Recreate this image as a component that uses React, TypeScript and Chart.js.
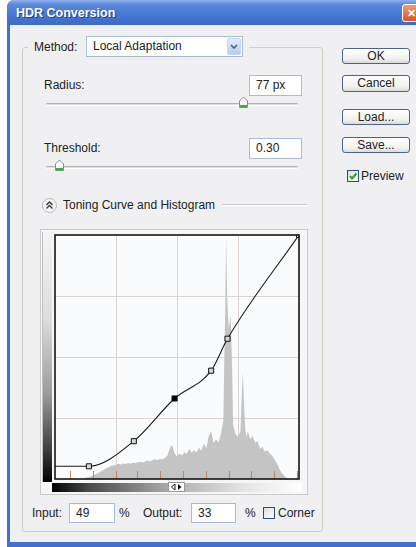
import React, { useEffect, useRef } from "react";
import { Chart, registerables } from "chart.js";

Chart.register(...registerables);

// Toning curve control points (input %, output %)
const curveInput = [0, 13.9, 32.3, 49, 64, 70.7, 100];
const curveOutput = [5.2, 5.2, 15.5, 33, 44.4, 57.5, 100];
const selectedPoint = 3;

// Histogram (input level %, relative count in output %)
const histLevels = [
  0, 11, 12, 13, 14, 15, 16, 17, 18, 19, 20, 21, 22, 23, 24, 25, 26, 27, 28, 29,
  30, 31, 32, 33, 34, 35, 36, 37, 38, 39, 40, 41, 42, 43, 44, 45, 46, 47, 48, 49,
  50, 51, 52, 53, 54, 55, 56, 57, 58, 59, 60, 61, 62, 63, 64, 65, 66, 67, 68, 69,
  69.4, 69.8, 70.1, 70.4, 70.6, 71.2, 72, 72.6, 73, 74, 75, 76, 76.6, 77, 77.5, 78,
  78.5, 79, 80, 81, 82, 83, 84, 85, 86, 87, 88, 89, 90, 91, 92, 93, 94, 95, 96, 100,
];
const histCounts = [
  0, 0, 0.3, 0.6, 0.8, 1.2, 1.6, 2.0, 2.6, 3.2, 3.8, 4.4, 4.8, 5.4, 5.6, 5.8, 6.2, 5.9, 6.4, 6.1,
  6.6, 6.3, 6.8, 6.5, 6.9, 7.1, 6.8, 7.3, 7.6, 7.2, 7.8, 8.1, 7.7, 8.3, 8.0, 8.6, 9.4, 12.5, 14, 10.5,
  9.2, 10.4, 9.6, 11.0, 10.2, 12.4, 10.8, 11.8, 11.0, 12.8, 11.6, 14.5, 12.6, 17.5, 19.6, 14.8, 16.2, 15.0, 18.4, 24,
  50, 72, 100, 100, 73, 62, 67, 45, 22, 18.4, 17.2, 19.5, 36, 43.6, 30, 20.4,
  17, 19.6, 16.4, 17.6, 14.8, 15.6, 12.4, 13.2, 11.2, 11.8, 10.4, 9.6, 8.0, 6.4, 4.0, 2.4, 1.2, 0.4, 0, 0,
];

// Exposure stop ticks along the input axis
const stopTicks = [6.1, 15.5, 24.9, 33.7, 43.1, 52.4, 61.9, 71.3, 80.4, 89.9, 99.2];
const gridTicks = [0, 25, 50, 75, 100];

const FONT = '"Liberation Sans", Arial, sans-serif';

const framePlugin = {
  id: "frame",
  beforeDraw(chart: any) {
    const { ctx, chartArea: a } = chart;
    ctx.save();
    ctx.fillStyle = "#fafbfd";
    ctx.fillRect(a.left, a.top, a.right - a.left, a.bottom - a.top);
    ctx.restore();
  },
  afterDatasetsDraw(chart: any) {
    const { ctx, chartArea: a, scales } = chart;
    ctx.save();
    ctx.strokeStyle = "#d27f5c";
    ctx.lineWidth = 1;
    for (const t of stopTicks) {
      const x = Math.round(scales.x.getPixelForValue(t)) + 0.5;
      ctx.beginPath();
      ctx.moveTo(x, a.bottom - 8);
      ctx.lineTo(x, a.bottom);
      ctx.stroke();
    }
    ctx.strokeStyle = "#141414";
    ctx.lineWidth = 1.6;
    ctx.strokeRect(a.left, a.top, a.right - a.left, a.bottom - a.top);
    ctx.restore();
  },
};

function CurveChart() {
  const ref = useRef<HTMLCanvasElement | null>(null);
  useEffect(() => {
    if (!ref.current) return;
    const gridColor = (c: any) =>
      c.tick && (c.tick.value === 0 || c.tick.value === 100) ? "rgba(0,0,0,0)" : "#dcd2ce";
    const chart = new Chart(ref.current, {
      type: "line",
      data: {
        datasets: [
          {
            label: "curve",
            data: curveInput.map((x, i) => ({ x, y: curveOutput[i] })),
            borderColor: "#1a1a1a",
            borderWidth: 1.1,
            cubicInterpolationMode: "monotone",
            pointStyle: "rect",
            pointRadius: (c: any) => (c.dataIndex === 0 ? 0 : 3.6),
            pointBackgroundColor: (c: any) => (c.dataIndex === selectedPoint ? "#000" : "#d6d6d6"),
            pointBorderColor: "#111",
            pointBorderWidth: 1,
            fill: false,
          } as any,
          {
            label: "histogram",
            data: histLevels.map((x, i) => ({ x, y: histCounts[i] })),
            borderWidth: 0,
            pointRadius: 0,
            fill: "origin",
            backgroundColor: "#c4c4c4",
            tension: 0,
          } as any,
        ],
      },
      options: {
        animation: false,
        responsive: false,
        events: [],
        layout: { padding: { left: 2, right: 2, top: 2, bottom: 2 } },
        plugins: { legend: { display: false }, tooltip: { enabled: false } },
        scales: {
          x: {
            type: "linear",
            min: 0,
            max: 100,
            afterBuildTicks: (s: any) => {
              s.ticks = gridTicks.map((v) => ({ value: v }));
            },
            ticks: { display: false },
            grid: { drawTicks: false, color: gridColor, lineWidth: 1 },
            border: { display: false },
          },
          y: {
            type: "linear",
            min: 0,
            max: 100,
            afterBuildTicks: (s: any) => {
              s.ticks = gridTicks.map((v) => ({ value: v }));
            },
            ticks: { display: false },
            grid: { drawTicks: false, color: gridColor, lineWidth: 1 },
            border: { display: false },
          },
        },
      } as any,
      plugins: [framePlugin],
    });
    return () => chart.destroy();
  }, []);
  return (
    <canvas
      ref={ref}
      width={254}
      height={254}
      style={{ position: "absolute", left: 50, top: 230, width: 254, height: 254, zIndex: 2 }}
    />
  );
}

const abs = (l: number, t: number, w?: number, h?: number, extra: any = {}) => ({
  position: "absolute" as const,
  left: l,
  top: t,
  width: w,
  height: h,
  ...extra,
});

function Label({ x, cy, text, h = 16 }: { x: number; cy: number; text: string; h?: number }) {
  return (
    <div style={abs(x, cy - h / 2, undefined, h, { lineHeight: h + "px", whiteSpace: "nowrap" })}>{text}</div>
  );
}

function TextBox({ x, y, w, h, text }: { x: number; y: number; w: number; h: number; text: string }) {
  return (
    <div
      style={abs(x, y, w, h, {
        boxSizing: "border-box",
        background: "#fff",
        border: "1px solid #a9bcd3",
        lineHeight: h - 2 + "px",
        paddingLeft: 6,
      })}
    >
      {text}
    </div>
  );
}

function Button({ y, h, text }: { y: number; h: number; text: string }) {
  return (
    <div
      style={abs(342, y, 68, h, {
        boxSizing: "border-box",
        border: "1px solid #4a6390",
        borderRadius: 3,
        background: "linear-gradient(#ffffff, #f1f1ee 70%, #dcdcd6)",
        textAlign: "center",
        lineHeight: h - 2 + "px",
      })}
    >
      {text}
    </div>
  );
}

function Slider({ y, thumbX }: { y: number; thumbX: number }) {
  return (
    <>
      <div
        style={abs(46, y, 252, 3, {
          boxSizing: "border-box",
          borderTop: "1px solid #b3b3b3",
          borderBottom: "1px solid #ffffff",
          background: "#dedede",
          borderRadius: 2,
        })}
      />
      <svg style={abs(thumbX - 5, y - 7, 11, 13)} width={11} height={13}>
        <path d="M1.5,5 L5.5,1 L9.5,5 L9.5,11.5 L1.5,11.5 Z" fill="#ffffff" stroke="#8c8c8c" strokeWidth={1} />
        <rect x={2} y={9} width={7} height={2.5} fill="#3fae49" />
      </svg>
    </>
  );
}

export default function App() {
  return (
    <div
      style={{
        position: "fixed",
        left: 0,
        top: 0,
        width: 416,
        height: 547,
        overflow: "hidden",
        background: "#ffffff",
        fontFamily: FONT,
        fontSize: 12,
        color: "#222",
      }}
    >
      {/* window frame */}
      <div style={abs(7, 0, 420, 547, { background: "#4470cc", borderRadius: "7px 7px 0 0" })} />
      {/* title bar */}
      <div
        style={abs(7, 0, 420, 25, {
          borderRadius: "7px 7px 0 0",
          background: "linear-gradient(#8fb0ea 0%, #5a88da 18%, #4676d0 60%, #3c6bc8 100%)",
        })}
      />
      <div
        style={abs(16, 4, 200, 18, {
          color: "#fff",
          fontWeight: "bold",
          fontSize: 12.5,
          lineHeight: "18px",
          textShadow: "1px 1px 0 #1d3f8a",
        })}
      >
        HDR Conversion
      </div>
      <div
        style={abs(402, 4, 21, 18, {
          boxSizing: "border-box",
          border: "1px solid #ffffff",
          borderRadius: 3,
          background: "linear-gradient(#f09a76, #d9542b)",
          color: "#fff",
          fontWeight: "bold",
          fontSize: 11,
          lineHeight: "16px",
          paddingLeft: 4,
        })}
      >
        ✕
      </div>
      {/* body */}
      <div style={abs(10, 25, 410, 517, { background: "#f0f0f3" })} />

      {/* group box */}
      <div
        style={abs(22, 47, 301, 485, {
          boxSizing: "border-box",
          border: "1px solid #cfcfc6",
          borderRadius: 3,
        })}
      />
      <div style={abs(28, 43, 221, 8, { background: "#f0f0f3" })} />

      <Label x={34} cy={46.5} text="Method:" />
      <div
        style={abs(86, 36, 157, 21, {
          boxSizing: "border-box",
          background: "#fff",
          border: "1px solid #a9bcd3",
          lineHeight: "19px",
          paddingLeft: 6,
        })}
      >
        Local Adaptation
      </div>
      <div
        style={abs(227, 38, 14, 17, {
          boxSizing: "border-box",
          borderRadius: 2,
          background: "linear-gradient(#e3ebfb, #b9cbef)",
          border: "1px solid #c6d4ef",
        })}
      >
        <svg width={12} height={15} style={{ display: "block" }}>
          <path d="M3,6 L6,9 L9,6" fill="none" stroke="#4d6185" strokeWidth={1.6} />
        </svg>
      </div>

      <Label x={44} cy={85} text="Radius:" />
      <TextBox x={249} y={75} w={53} h={21} text="77 px" />
      <Slider y={103} thumbX={243} />

      <Label x={44} cy={148} text="Threshold:" />
      <TextBox x={249} y={138} w={53} h={21} text="0.30" />
      <Slider y={166} thumbX={59} />

      {/* Toning curve header */}
      <svg style={abs(41, 197, 17, 17)} width={17} height={17}>
        <circle cx={8.5} cy={8.5} r={7} fill="#f7f7f7" stroke="#b9b9b9" strokeWidth={1} />
        <path d="M5.5,8 L8.5,5 L11.5,8 M5.5,11.5 L8.5,8.5 L11.5,11.5" fill="none" stroke="#333" strokeWidth={1.3} />
      </svg>
      <Label x={63} cy={205} text="Toning Curve and Histogram" />
      <div
        style={abs(222, 204, 85, 2, {
          boxSizing: "border-box",
          borderTop: "1px solid #c9c9c9",
          borderBottom: "1px solid #ffffff",
        })}
      />

      {/* chart frame */}
      <div
        style={abs(40, 229, 268, 266, {
          boxSizing: "border-box",
          border: "1px solid #cbcbcb",
          background: "#f6f6f7",
        })}
      />
      <div
        style={abs(42, 232, 10, 250, {
          background: "linear-gradient(#f4f4f4 0%, #dcdcdc 35%, #9a9a9a 65%, #3a3a3a 88%, #000 100%)",
          borderLeft: "1px solid #c0c0c0",
          boxSizing: "border-box",
        })}
      />
      <div
        style={abs(52, 483, 250, 9, {
          background: "linear-gradient(90deg, #000 0%, #4a4a4a 15%, #a5a5a5 45%, #e2e2e2 75%, #fff 100%)",
        })}
      />
      <div
        style={abs(168, 482, 17, 10, {
          boxSizing: "border-box",
          background: "#fff",
          border: "1px solid #9a9a9a",
          zIndex: 3,
        })}
      >
        <svg width={15} height={8} style={{ display: "block" }}>
          <path d="M6,1 L2.5,4 L6,7 Z" fill="#fff" stroke="#222" strokeWidth={1} />
          <path d="M9,1 L12.5,4 L9,7 Z" fill="#111" />
        </svg>
      </div>
      <CurveChart />

      {/* bottom row */}
      <Label x={32} cy={513} text="Input:" />
      <TextBox x={69} y={503} w={46} h={20} text="49" />
      <Label x={119} cy={513} text="%" />
      <Label x={143} cy={513} text="Output:" />
      <TextBox x={191} y={503} w={45} h={20} text="33" />
      <Label x={245} cy={513} text="%" />
      <div
        style={abs(263, 507, 12, 12, {
          boxSizing: "border-box",
          border: "1px solid #2b4f7d",
          background: "linear-gradient(135deg, #dcdcd7, #fff)",
        })}
      />
      <Label x={278} cy={513} text="Corner" />

      {/* right buttons */}
      <Button y={48} h={16} text="OK" />
      <Button y={75} h={17} text="Cancel" />
      <Button y={109} h={16} text="Load..." />
      <Button y={137} h={16} text="Save..." />
      <div
        style={abs(347, 170, 12, 12, {
          boxSizing: "border-box",
          border: "1px solid #2b4f7d",
          background: "linear-gradient(135deg, #dcdcd7, #fff)",
        })}
      >
        <svg width={10} height={10} style={{ display: "block" }}>
          <path d="M2,5 L4,7.5 L8.5,2.5" fill="none" stroke="#21a121" strokeWidth={2} />
        </svg>
      </div>
      <Label x={361} cy={176} text="Preview" />
    </div>
  );
}
